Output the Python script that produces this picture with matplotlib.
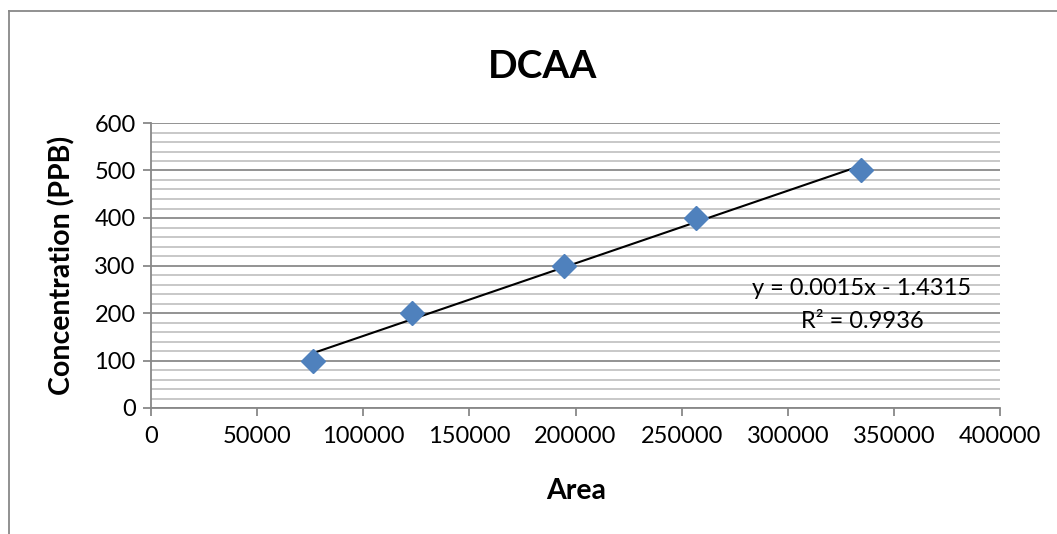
import numpy as np
import matplotlib
matplotlib.use("Agg")
import matplotlib.pyplot as plt
from matplotlib.lines import Line2D
from matplotlib.ticker import MultipleLocator

plt.rcParams['font.family'] = ['Lato', 'DejaVu Sans']

area = [76300, 123000, 194500, 256800, 334500]
conc = [100, 200, 300, 400, 500]
title = "DCAA"
xlabel = "Area"
ylabel = "Concentration (PPB)"
eq_text = "y = 0.0015x - 1.4315\nR² = 0.9936"

W, H = 1057, 534
fig = plt.figure(figsize=(W / 100, H / 100), dpi=100)
ax = fig.add_axes([151 / W, 1 - 408 / H, (1000 - 151) / W, (408 - 123) / H])

# Frame of chart area (partially cut off)
fig.add_artist(Line2D([8.5 / W, 8.5 / W], [0, 1 - 11 / H], transform=fig.transFigure,
                      color='#888888', lw=1.3))
fig.add_artist(Line2D([8.5 / W, 1.0], [1 - 11 / H, 1 - 11 / H], transform=fig.transFigure,
                      color='#888888', lw=1.3))

ax.set_xlim(0, 400000)
ax.set_ylim(0, 600)
ax.xaxis.set_major_locator(MultipleLocator(50000))
ax.yaxis.set_major_locator(MultipleLocator(100))
ax.yaxis.set_minor_locator(MultipleLocator(20))

ax.grid(axis='y', which='major', color='#8a8a8a', lw=1.3)
ax.grid(axis='y', which='minor', color='#c4c4c4', lw=1.3)
ax.set_axisbelow(True)

for s in ['top', 'right']:
    ax.spines[s].set_visible(False)
for s in ['left', 'bottom']:
    ax.spines[s].set_color('#888888')
    ax.spines[s].set_linewidth(1.3)

ax.tick_params(axis='both', which='major', direction='out', length=6, width=1.3,
               color='#888888', labelsize=17, labelcolor='black')
ax.tick_params(axis='y', which='minor', length=0)
ax.tick_params(axis='x', pad=7)
ax.tick_params(axis='y', pad=5)

# trendline
coef = np.polyfit(area, conc, 1)
xs = np.array([min(area), max(area)])
ax.plot(xs, np.polyval(coef, xs), color='black', lw=1.5, zorder=2)

ax.plot(area, conc, linestyle='none', marker='D', markersize=12,
        color='#4F81BD', markeredgecolor='#4F81BD', zorder=3, clip_on=False)

ax.text(862, H - 305, eq_text, transform=None, fontsize=17, ha='center', va='center',
        multialignment='center', linespacing=1.65)

fig.text(543 / W, 1 - 66 / H, title, fontsize=28, fontweight='bold', ha='center', va='center')
fig.text(576 / W, 1 - 491 / H, xlabel, fontsize=20.5, fontweight='bold', ha='center', va='center')
fig.text(62 / W, 1 - 265 / H, ylabel, fontsize=20.5, fontweight='bold', ha='center', va='center',
         rotation=90)

fig.savefig("out.png", dpi=100)
